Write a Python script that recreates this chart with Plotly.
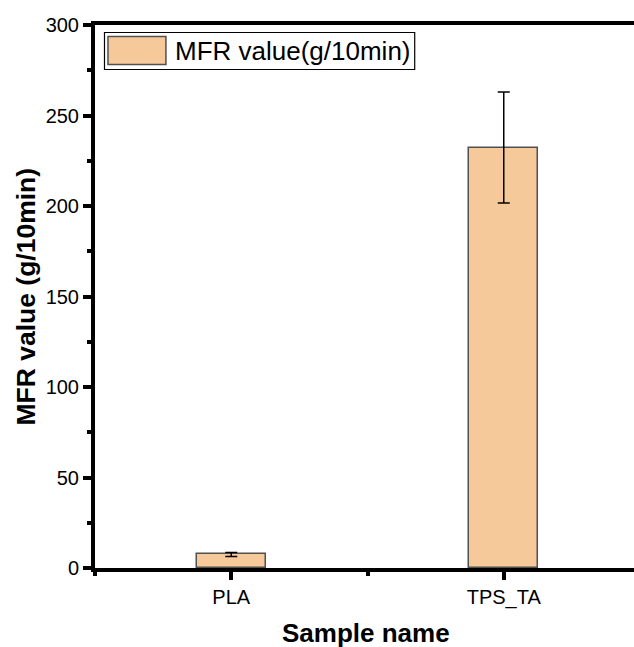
import plotly.graph_objects as go

categories = ["PLA", "TPS_TA"]
mfr_values = [7.5, 232.3]
mfr_errors = [1.1, 30.7]
y_ticks = [0, 50, 100, 150, 200, 250, 300]
series_name = "MFR value(g/10min)"

# figure slightly wider than the window so that the plot's right edge is cropped,
# as in the reference
W, H = 640, 647
L, R, T, B = 94.5, 0, 25, 79
pw, ph = W - L - R, H - T - B

def px(x):
    return (x - L) / pw

def py(y):
    return (H - B - y) / ph

FONT = "Liberation Sans, Arial, sans-serif"
FILL = "#F6C99A"
EDGE = "#505050"

x_pos = list(range(len(categories)))

fig = go.Figure()
fig.add_trace(go.Bar(
    x=x_pos, y=mfr_values, width=0.255,
    name=series_name,
    marker=dict(color=FILL, line=dict(color=EDGE, width=1.5)),
    error_y=dict(type="data", array=mfr_errors, visible=True,
                 color="black", thickness=1.5, width=6),
    showlegend=False,
))

fig.update_layout(
    width=W, height=H,
    margin=dict(l=L, r=R, t=T, b=B, pad=0),
    paper_bgcolor="white", plot_bgcolor="white",
    font=dict(family=FONT, color="black", size=20),
    xaxis=dict(
        range=[-0.5, 1.5], tickvals=x_pos, ticktext=categories,
        showline=True, linecolor="black", linewidth=4, mirror=True,
        ticks="outside", ticklen=8, tickwidth=4, tickcolor="black",
        showgrid=False, zeroline=False,
        tickfont=dict(size=20, family=FONT),
        minor=dict(dtick=0.5, tick0=-0.5, ticks="outside", ticklen=4,
                   tickwidth=4, tickcolor="black", showgrid=False),
    ),
    yaxis=dict(
        range=[0, 300], tickvals=y_ticks,
        showline=True, linecolor="black", linewidth=4,
        ticks="outside", ticklen=8, tickwidth=4, tickcolor="black",
        showgrid=False, zeroline=False,
        tickfont=dict(size=20, family=FONT),
        minor=dict(dtick=25, ticks="outside", ticklen=4, tickwidth=4,
                   tickcolor="black", showgrid=False),
    ),
    bargap=0,
)

# axis titles
fig.add_annotation(text="<b>Sample name</b>", xref="paper", yref="paper",
                   x=px(366), y=py(633), showarrow=False,
                   xanchor="center", yanchor="middle",
                   font=dict(size=26, family=FONT, color="black"))
fig.add_annotation(text="<b>MFR value (g/10min)</b>", xref="paper", yref="paper",
                   x=px(25), y=py(297), showarrow=False, textangle=-90,
                   xanchor="center", yanchor="middle",
                   font=dict(size=26.5, family=FONT, color="black"))

# legend box (drawn manually to match the large legend swatch)
fig.add_shape(type="rect", xref="paper", yref="paper",
              x0=px(104), x1=px(414.5), y0=py(69.5), y1=py(32.5),
              line=dict(color="black", width=1.2), fillcolor="white")
fig.add_shape(type="rect", xref="paper", yref="paper",
              x0=px(107.5), x1=px(165.5), y0=py(64.5), y1=py(36.5),
              line=dict(color=EDGE, width=1.5), fillcolor=FILL)
fig.add_annotation(text=series_name, xref="paper", yref="paper",
                   x=px(173), y=py(51), showarrow=False,
                   xanchor="left", yanchor="middle",
                   font=dict(size=26, family=FONT, color="black"))

fig.write_html(
    "out.html",
    config={"displayModeBar": False},
    post_script=(
        "document.documentElement.style.overflow='hidden';"
        "document.body.style.margin='0';"
        "document.body.style.overflow='hidden';"
    ),
)
